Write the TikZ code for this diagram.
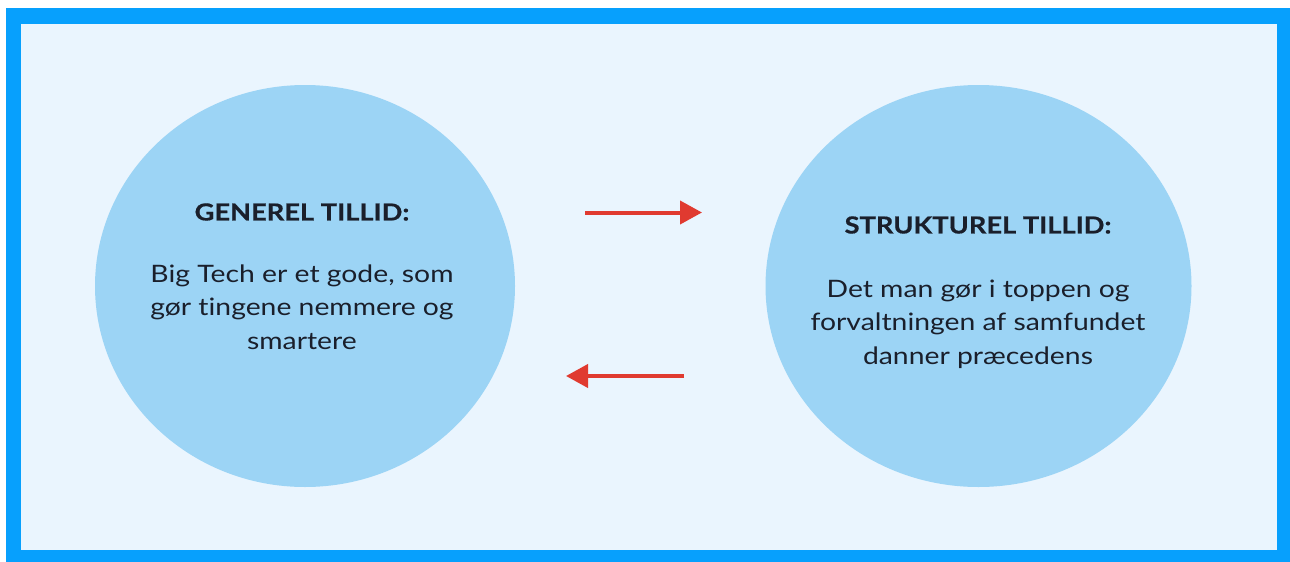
\documentclass[tikz,border=0pt]{standalone}
\usepackage{fontspec}
\setmainfont{Lato}[FakeStretch=1.18, RawFeature=-liga, BoldFeatures={FakeStretch=1.16, FakeBold=0.6, RawFeature=-liga}]
\usetikzlibrary{arrows.meta}
\definecolor{framecol}{HTML}{07A0FD}
\definecolor{bgcol}{HTML}{EAF5FE}
\definecolor{circcol}{HTML}{9CD4F5}
\definecolor{arrcol}{HTML}{E03A30}
\definecolor{txtcol}{HTML}{1A1F2B}
\tikzset{
  bubble/.style={fill=circcol, draw=none},
  title/.style={font=\fontsize{23.5}{27}\selectfont\bfseries, text=txtcol, align=center},
  body/.style={font=\fontsize{24}{33.5}\selectfont, text=txtcol, align=center},
  flow/.style={draw=arrcol, line width=4pt, -{Triangle[length=22pt,width=23pt]}}
}
\begin{document}
\begin{tikzpicture}[x=1pt,y=-1pt]
\useasboundingbox (0,0) rectangle (1290,562);
\fill[framecol] (6,8) rectangle (1290,562);
\fill[bgcol] (21,24) rectangle (1277,550);
\fill[bubble] (305,286) ellipse [x radius=210, y radius=201];
\fill[bubble] (978.5,286) ellipse [x radius=213, y radius=201];
\node[title] (t1) at (302,212) {GENEREL TILLID:};
\node[body] (b1) at (302,307) {Big Tech er et gode, som\\gør tingene nemmere og\\smartere};
\node[title] (t2) at (978,225) {STRUKTUREL TILLID:};
\node[body] (b2) at (978,324) {Det man gør i toppen og\\forvaltningen af samfundet\\danner præcedens};
\coordinate (a1s) at (585,212.5);
\coordinate (a1e) at (702,212.5);
\coordinate (a2s) at (684,376);
\coordinate (a2e) at (566,376);
\draw[flow] (a1s) -- (a1e);
\draw[flow] (a2s) -- (a2e);
\end{tikzpicture}
\end{document}
